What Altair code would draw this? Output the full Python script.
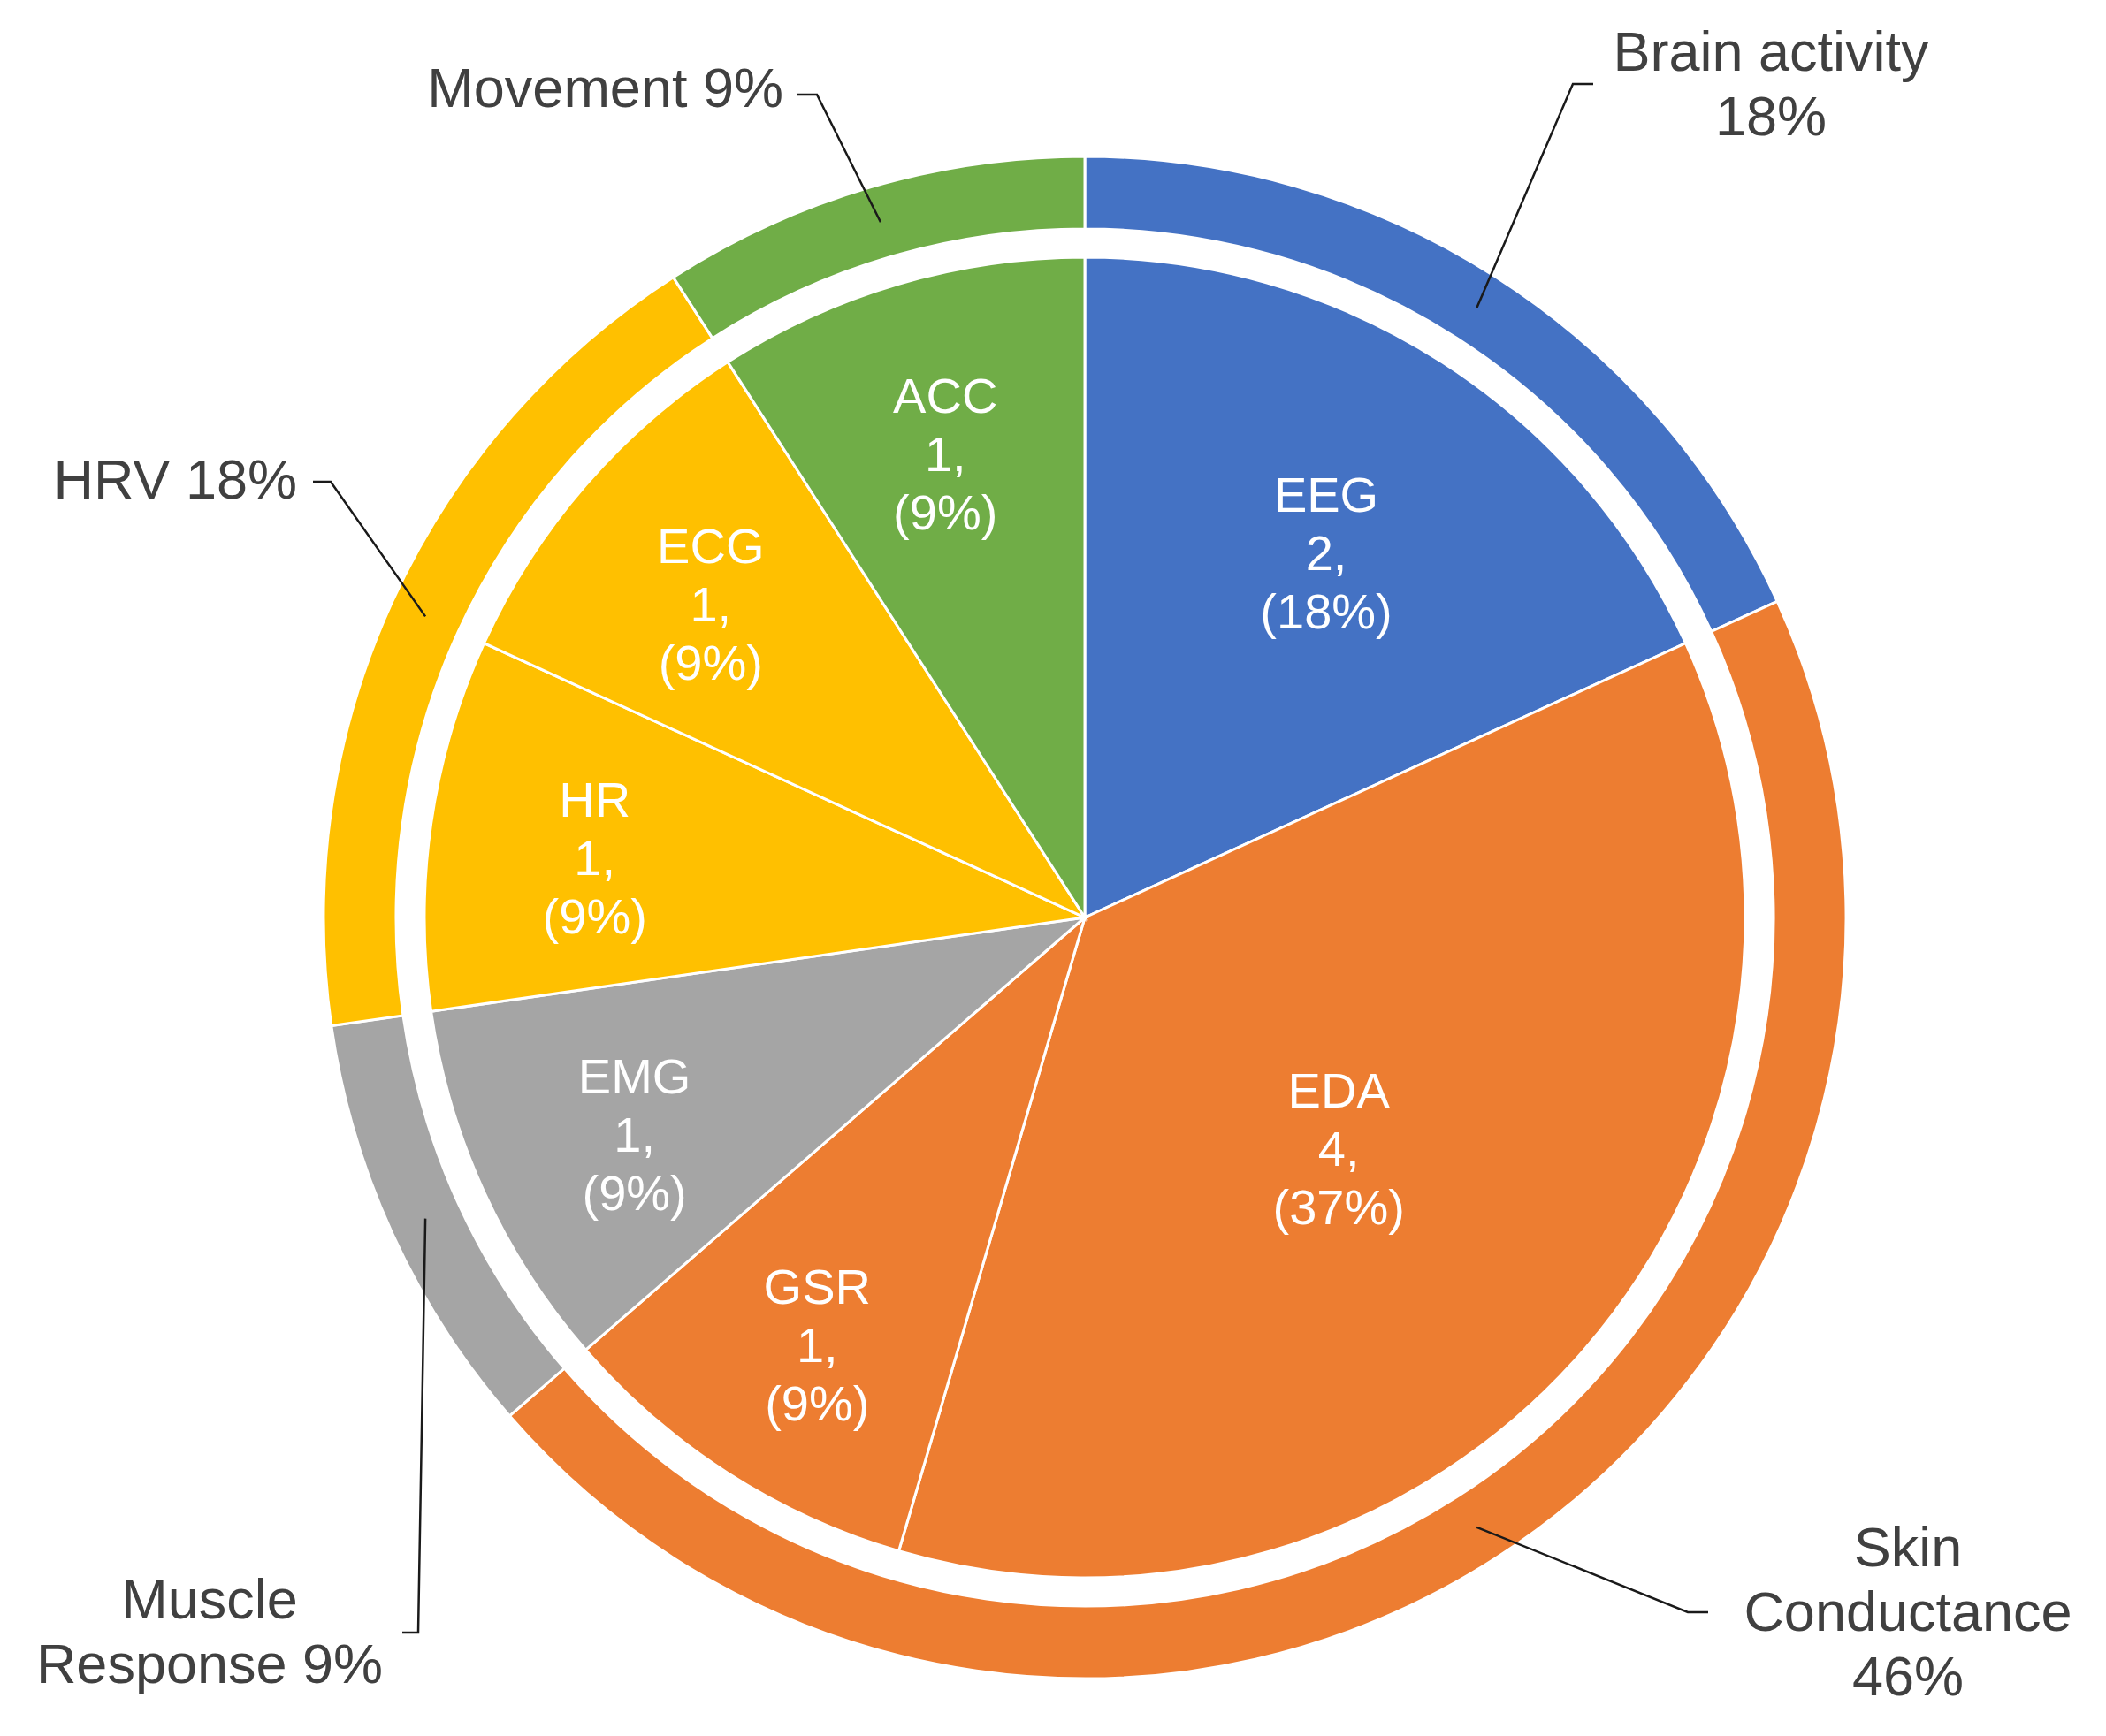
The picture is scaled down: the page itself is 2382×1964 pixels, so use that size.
import math
import altair as alt
import pandas as pd

# ---------------- data ----------------
inner_cats = ["EEG", "EDA", "GSR", "EMG", "HR", "ECG", "ACC"]
inner_counts = [2, 4, 1, 1, 1, 1, 1]
inner_pcts = ["18%", "37%", "9%", "9%", "9%", "9%", "9%"]
inner_groups = ["Brain activity", "Skin Conductance", "Skin Conductance",
                "Muscle Response", "HRV", "HRV", "Movement"]

outer_groups = ["Brain activity", "Skin Conductance", "Muscle Response", "HRV", "Movement"]
outer_counts = [2, 5, 1, 2, 1]
outer_texts = ["Brain activity\n18%", "Skin\nConductance\n46%", "Muscle\nResponse 9%",
               "HRV 18%", "Movement 9%"]

# ---------------- style / layout ----------------
palette = {
    "Brain activity": "#4472C4",
    "Skin Conductance": "#ED7D31",
    "Muscle Response": "#A5A5A5",
    "HRV": "#FFC000",
    "Movement": "#70AD47",
}
W, H = 2366, 1948
CX, CY = 1219, 1030
R_PIE = 747
R_IN, R_OUT = 779, 861
R_MID = (R_IN + R_OUT) / 2
FONT = "Liberation Sans"
IN_FS, IN_LH = 56, 66
OUT_FS, OUT_LH = 63, 73

# outer label placement: first-line anchor (x, y, align), elbow, stub end
label_layout = {
    "Movement":         dict(lx=878,  ly=94,   align="right",  ex=916,  ey=99,   sx=893,  sy=99),
    "Brain activity":   dict(lx=1995, ly=53,   align="center", ex=1771, ey=87,   sx=1794, sy=87),
    "HRV":              dict(lx=328,  ly=537,  align="right",  ex=366,  ey=537,  sx=346,  sy=537),
    "Muscle Response":  dict(lx=229,  ly=1804, align="center", ex=465,  ey=1839, sx=447,  sy=1839),
    "Skin Conductance": dict(lx=2150, ly=1745, align="center", ex=1901, ey=1816, sx=1924, sy=1816),
}

# ---------------- tables ----------------
total = sum(outer_counts)

inner_df = pd.DataFrame({
    "cat": inner_cats,
    "value": inner_counts,
    "pct": inner_pcts,
    "idx": list(range(len(inner_cats))),
    "color": [palette[g] for g in inner_groups],
})
inner_df["label"] = inner_df["cat"] + "\n" + inner_df["value"].astype(str) + ",\n(" + inner_df["pct"] + ")"
inner_df["mid"] = inner_df["value"].cumsum() - inner_df["value"] / 2

outer_df = pd.DataFrame({
    "grp": outer_groups,
    "value": outer_counts,
    "idx": list(range(len(outer_groups))),
    "color": [palette[g] for g in outer_groups],
})

lines_rows, text_rows = [], []
cum = 0
for g, v, t in zip(outer_groups, outer_counts, outer_texts):
    a = (cum + v / 2) / total * 2 * math.pi
    cum += v
    L = label_layout[g]
    pts = [(CX + R_MID * math.sin(a), CY - R_MID * math.cos(a)),
           (L["ex"], L["ey"]), (L["sx"], L["sy"])]
    for i, (px, py) in enumerate(pts):
        lines_rows.append({"grp": g, "seq": i, "px": px, "py": py})
    text_rows.append({"grp": g, "text": t, "px": L["lx"], "py": L["ly"], "align": L["align"]})

lines_df = pd.DataFrame(lines_rows)
text_df = pd.DataFrame(text_rows)

# ---------------- charts ----------------
theta_scale = alt.Scale(domain=[0, total])

pie = alt.Chart(inner_df).mark_arc(
    outerRadius=R_PIE, stroke="white", strokeWidth=3
).encode(
    theta=alt.Theta("value:Q", stack=True, scale=theta_scale),
    order=alt.Order("idx:Q"),
    color=alt.Color("color:N", scale=None),
    x=alt.value(CX), y=alt.value(CY),
)

ring = alt.Chart(outer_df).mark_arc(
    innerRadius=R_IN, outerRadius=R_OUT, stroke="white", strokeWidth=3
).encode(
    theta=alt.Theta("value:Q", stack=True, scale=theta_scale),
    order=alt.Order("idx:Q"),
    color=alt.Color("color:N", scale=None),
    x=alt.value(CX), y=alt.value(CY),
)

inner_text = alt.Chart(inner_df).transform_calculate(
    lr="datum.value == 1 ? 560 : (datum.value == 2 ? 505 : 380)"
).mark_text(
    font=FONT, fontSize=IN_FS, lineHeight=IN_LH, color="white", lineBreak="\n",
    align="center", baseline="middle", dy=-IN_LH + 15
).encode(
    theta=alt.Theta("mid:Q", stack=None, scale=theta_scale),
    radius=alt.Radius("lr:Q", scale=None),
    text="label:N",
    x=alt.value(CX), y=alt.value(CY),
)

leaders = alt.Chart(lines_df).mark_line(color="#1a1a1a", strokeWidth=2.5).encode(
    x=alt.X("px:Q", scale=None),
    y=alt.Y("py:Q", scale=None),
    detail="grp:N",
    order="seq:Q",
)

def outer_label(align):
    return alt.Chart(text_df[text_df["align"] == align]).mark_text(
        font=FONT, fontSize=OUT_FS, lineHeight=OUT_LH, color="#404040", lineBreak="\n",
        align=align, baseline="middle"
    ).encode(
        x=alt.X("px:Q", scale=None),
        y=alt.Y("py:Q", scale=None),
        text="text:N",
    )

chart = alt.layer(
    ring, pie, inner_text, leaders, outer_label("right"), outer_label("center")
).properties(
    width=W, height=H, padding=0, autosize=alt.AutoSizeParams(type="none"),
    background="white",
).configure_view(stroke=None)

chart.save("out.html", embed_options={"renderer": "svg", "actions": False})
